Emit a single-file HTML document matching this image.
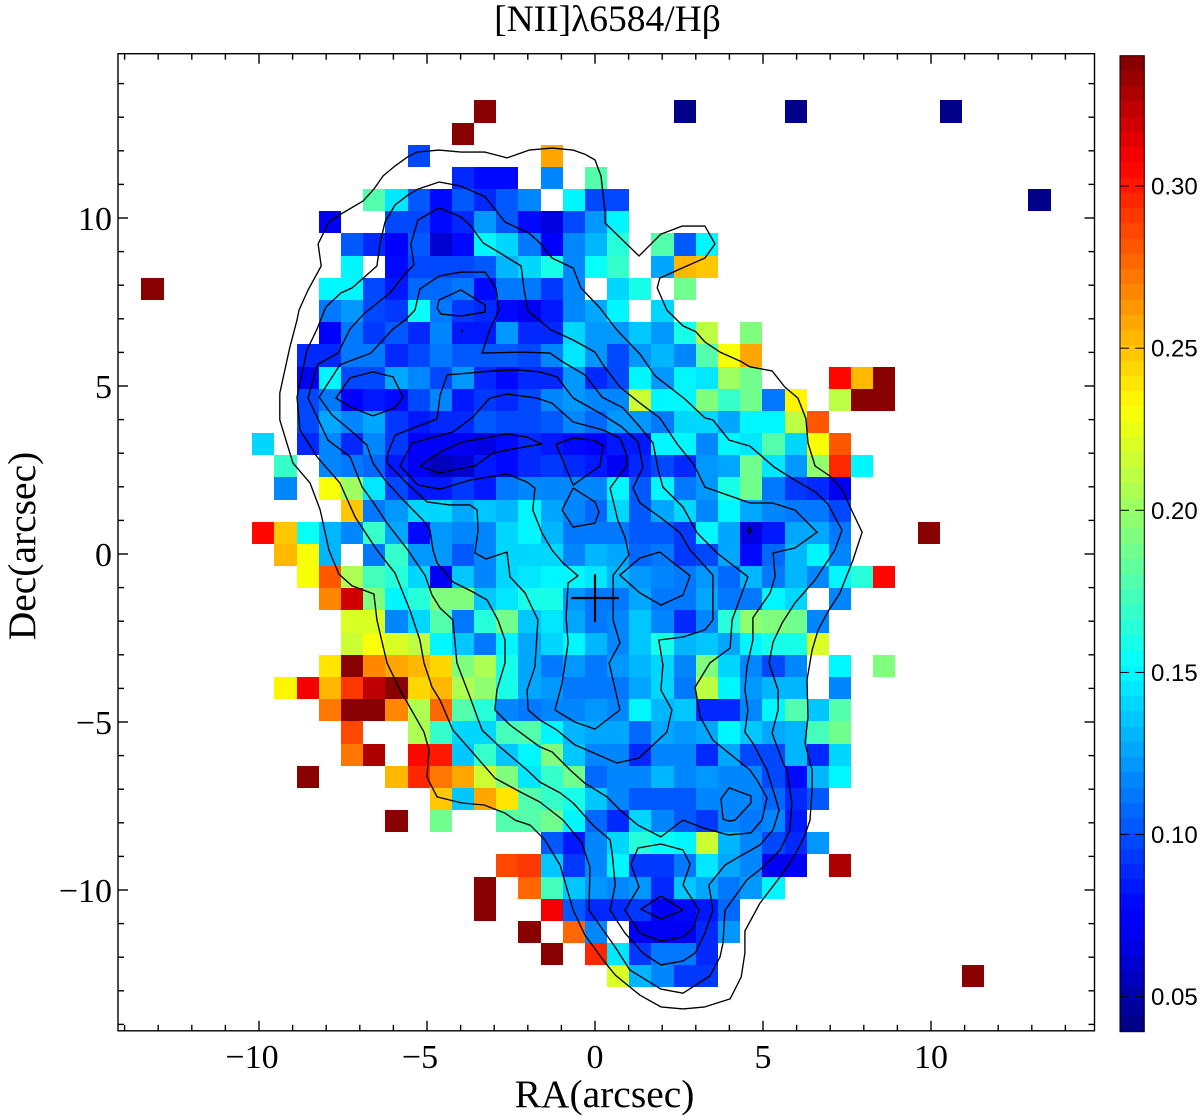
<!DOCTYPE html>
<html lang="en">
<head>
<meta charset="utf-8">
<title>[NII]λ6584/Hβ map</title>
<style>
html,body{margin:0;padding:0;background:#fff;width:1200px;height:1116px;overflow:hidden}
svg{display:block}
.serif{font-family:"Liberation Serif","DejaVu Serif",serif;fill:#000}
.sans{font-family:"Liberation Sans","DejaVu Sans",sans-serif;fill:#000}
</style>
</head>
<body>
<svg id="chart" xmlns="http://www.w3.org/2000/svg" width="1200" height="1116" viewBox="0 0 1200 1116">
  <g id="heat" shape-rendering="crispEdges"></g>
  <g id="contours" fill="none" stroke="#000" stroke-width="1.35" stroke-linejoin="round"></g>
  <g id="cross" stroke="#000" stroke-width="2.2"></g>
  <g id="axes" stroke="#000" stroke-width="1.4" fill="none"></g>
  <g id="axisLabels"></g>
  <g id="cbar" shape-rendering="crispEdges"></g>
  <g id="cbarTicks"></g>
  <text class="serif" x="607.5" y="31" font-size="37.5" text-anchor="middle">[NII]λ6584/Hβ</text>
  <text class="serif" x="604.5" y="1107" font-size="39.5" text-anchor="middle">RA(arcsec)</text>
  <text class="serif" transform="translate(35 546) rotate(-90)" font-size="39.5" text-anchor="middle">Dec(arcsec)</text>
</svg>
<script>
const _ = null;
/* grid */
const cellStep = 0.66;
const centerColumn = 20;
const centerRow = 20;
/* first occupied column of every map row */
const firstColumn = [15,14,12,14,10,8,9,9,0,8,8,7,7,7,7,5,6,6,9,5,6,7,8,9,9,8,6,8,9,9,7,13,11,18,16,15,15,17,18,21];
/* [NII]/Hbeta ratio per row, starting at firstColumn */
const ratioRows = [
[.34,_,_,_,_,_,_,_,_,.04,_,_,_,_,.04,_,_,_,_,_,_,.04],
[.34],
[.10,_,_,_,_,_,.26],
[.088,.08,.08,_,.118,_,.18],
[.18,.145,.105,.08,.105,.09,.105,.118,_,.15,.10,.10,_,_,_,_,_,_,_,_,_,_,_,_,_,_,_,_,_,_,.04],
[.07,_,_,.10,.10,.08,.088,.12,.105,.078,.066,.10,.12,.15],
[.105,.09,.075,.105,.06,.078,.148,.14,.113,.073,.115,.13,.165,_,.18,.105,.15],
[.15,_,.08,.098,.098,.098,.105,.13,.14,.157,.115,.155,.17,_,.125,.255,.25],
[.34,_,_,_,_,_,_,_,.15,.15,.098,.085,.108,.108,.113,.08,.11,.11,.092,.118,_,.14,.16,_,.185],
[.11,.12,.098,.095,.155,.113,.095,.09,.078,.07,.085,.115,.125,.15,_,.14],
[.075,.113,.092,.105,.09,.115,.085,.085,.12,.09,.09,.138,.12,.12,.135,.12,.158,.21,_,.19],
[.09,.088,.113,.11,.088,.098,.11,.105,.103,.103,.10,.115,.145,.12,.098,.12,.13,.115,.18,.23,.26],
[.068,.15,.10,.098,.125,.115,.098,.12,.088,.078,.09,.09,.12,.088,.098,.148,.12,.15,.145,.20,.185,_,_,_,.305,.255,.34],
[.098,.11,.075,.085,.078,.10,.118,.085,.095,.09,.10,.118,.12,.118,.118,.215,.148,.15,.19,.17,.185,.11,.235,_,.21,.34,.34],
[.098,.125,.118,.125,.095,.085,.09,.09,.105,.098,.098,.105,.118,.108,.123,.123,.113,.14,.14,.125,.15,.15,.21,.28],
[.14,_,.09,.118,.088,.118,.095,.075,.072,.07,.066,.078,.09,.085,.078,.075,.085,.085,.148,.15,.118,.148,.145,.18,.14,.23,.28],
[.17,_,.118,.11,.108,.085,.07,.055,.062,.082,.08,.09,.095,.09,.085,.072,.09,.098,.088,.12,.125,.185,.145,.123,.195,.295,.15],
[.115,_,.228,.20,.145,.10,.085,.085,.095,.085,.11,.118,.118,.118,.118,.15,.105,.148,.113,.123,.16,.185,.113,.095,.09,.072],
[.25,.113,.123,.138,.138,.125,.135,.13,.15,.126,.118,.108,.14,.105,.125,.138,.118,.15,.125,.118,.113,.113,.10],
[.305,.25,.155,.13,.115,.17,.128,.078,.12,.115,.118,.14,.15,.13,.11,.11,.113,.105,.103,.095,.15,.128,.065,.085,.125,.128,.113,_,_,_,.34],
[.255,.23,.13,_,.113,.17,.12,.12,.105,.115,.14,.14,.142,.118,.133,.125,.108,.113,.095,.10,.125,.078,.108,.13,.148,.115],
[.23,.28,.205,.175,.165,.14,.07,.135,.118,.14,.145,.15,.148,.145,.13,.123,.118,.113,.123,.108,.133,.11,.133,.118,.15,.165,.305],
[.265,.32,.19,.15,.165,.19,.19,.135,.145,.16,.158,.12,.113,.113,.128,.113,.11,.125,.113,.11,.148,.14,_,.118],
[.22,.22,.118,.14,.18,.11,.165,.185,.135,.145,.128,.11,.115,.135,.118,.09,.118,.165,.195,.19,.185,.118],
[.215,.23,.22,.21,.15,.135,.113,.15,.125,.142,.15,.133,.115,.135,.158,.13,.135,.128,.15,.158,.16,.218],
[.24,.34,.265,.26,.255,.245,.19,.205,.16,.128,.113,.122,.11,.12,.13,.138,.118,.19,.14,.118,.098,.118,_,.15,_,.19],
[.235,.31,.255,.29,.325,.34,.245,.255,.205,.195,.16,.128,.123,.11,.11,.113,.125,.14,.113,.21,.15,.123,.13,.13,_,.118],
[.27,.34,.34,.265,.205,.275,.178,.165,.118,.11,.118,.118,.122,.118,.15,.13,.135,.09,.09,.115,.148,.178,.135,.18],
[.285,_,_,.205,.17,.14,.14,.175,.18,.15,.13,.125,.125,.108,.128,.12,.125,.15,.135,.125,.133,.175,.185],
[.27,.33,_,.305,.30,.135,.17,.135,.15,.19,.135,.118,.118,.09,.115,.115,.09,.125,.098,.098,.13,.09,.14],
[.34,_,_,_,.255,.295,.27,.26,.215,.19,.145,.17,.185,.108,.118,.118,.13,.118,.122,.118,.115,.098,.08,.13,.15],
[.25,.135,.258,.24,.18,.17,.16,.135,.115,.103,.103,.103,.115,.115,.115,.108,.09,.103],
[.34,_,.185,_,_,.178,.178,.185,.148,.108,.088,.14,.115,.105,.095,.118,.11,.118,.085],
[.105,.082,.118,.14,.165,.155,.148,.215,.133,.115,.098,.09,.12],
[.285,.29,.135,.095,.118,.148,.095,.095,.11,.143,.125,.115,.07,.07,_,.33],
[.34,_,.275,.175,.135,.123,.115,.12,.09,.135,.128,.113,.123,.15],
[.34,_,_,.31,.105,.09,.09,.095,.07,.08,.085,.108],
[.34,_,.275,.118,_,.068,.068,.068,.09,.123],
[.34,_,.295,.145,.095,.11,.11,.09],
[.218,.13,.118,.092,.092,_,_,_,_,_,_,_,_,_,_,_,.34]
];
/* contour levels: flat RA,Dec arcsec sequences */
const contourOuter = [-5.30,11.96,-4.64,12.02,-3.99,11.96,-3.27,11.96,-2.62,11.79,-1.96,12.02,-1.28,12.08,-.65,12.02,-.30,11.90,0,11.73,.18,11.25,.30,10.18,.30,9.85,1.31,8.87,1.96,9.52,2.59,9.76,3.27,9.76,3.57,9.23,3.27,8.81,2.59,8.51,1.93,8.21,1.85,7.92,2.14,7.26,2.62,6.79,3.01,6.61,3.27,6.31,3.72,6.01,4.32,5.74,4.61,5.57,5.27,5.45,5.65,4.97,6.04,4.64,6.28,4.02,6.34,3.30,6.55,2.62,6.99,2.32,7.35,1.93,7.65,1.28,7.95,.65,7.68,-.18,7.29,-1.16,6.96,-1.67,6.64,-2.26,6.46,-2.86,6.31,-3.75,6.34,-4.85,6.25,-5.63,6.46,-6.43,6.46,-7.02,6.40,-7.92,6.25,-8.36,5.95,-8.96,5.51,-9.61,4.91,-10.39,4.46,-11.22,4.46,-11.88,4.35,-12.59,4.02,-13.24,3.27,-13.48,2.62,-13.54,1.96,-13.48,1.34,-13.13,.60,-12.53,.24,-12.08,-.30,-11.34,-.65,-10.60,-1.04,-9.26,-1.49,-8.51,-1.93,-8.07,-2.38,-7.92,-2.68,-7.71,-3.30,-7.47,-3.96,-7.41,-4.70,-7.23,-4.91,-6.82,-5.00,-6.64,-4.94,-5.83,-5.09,-5.30,-5.80,-4.05,-6.19,-3.24,-6.49,-1.96,-6.58,-1.19,-7.23,-.95,-7.62,-.60,-7.92,.12,-8.18,1.31,-8.48,2.11,-8.99,2.71,-9.38,3.99,-9.38,4.79,-9.08,6.16,-8.87,6.96,-8.81,7.26,-8.54,7.86,-8.15,8.57,-8.24,9.23,-7.92,9.88,-7.56,10.12,-6.90,10.51,-6.58,10.86,-6.31,11.25,-5.95,11.55,-5.57,11.82];
const contourSecond = [-8.27,6.70,-8.01,7.35,-7.56,7.77,-7.23,7.92,-6.90,8.21,-6.49,8.57,-6.40,9.23,-6.25,9.88,-5.95,10.39,-5.57,10.68,-5.27,10.86,-4.64,11.07,-3.99,10.95,-3.27,10.63,-2.68,9.88,-1.96,9.55,-1.64,9.26,-1.28,8.81,-.65,8.51,-.42,7.92,.15,7.32,.65,6.67,1.34,5.95,1.79,5.30,2.68,4.61,3.27,4.05,3.51,3.99,3.99,3.39,4.61,3.21,5.33,2.59,5.95,2.20,6.55,1.85,6.93,1.49,7.35,.71,7.14,.12,6.55,-.77,5.95,-1.46,5.57,-2.05,5.30,-2.62,5.18,-3.24,5.45,-4.05,5.45,-4.64,5.27,-5.33,5.60,-6.22,5.71,-6.43,5.86,-7.41,5.80,-8.21,5.51,-8.81,5.00,-9.32,4.52,-9.70,3.87,-10.60,3.81,-11.58,3.72,-11.99,3.42,-12.56,2.62,-13.07,1.96,-12.95,1.04,-12.38,.60,-11.70,.24,-11.19,-.18,-10.60,-.15,-9.32,-.39,-8.60,-.95,-7.92,-1.64,-7.38,-2.23,-7.08,-2.98,-6.67,-3.63,-5.92,-4.23,-5.24,-4.61,-4.35,-4.85,-3.96,-5.09,-3.24,-5.21,-2.56,-5.51,-1.67,-5.95,-.57,-6.49,.12,-7.14,1.10,-7.59,2.11,-8.27,2.89,-8.78,3.69,-8.87,4.67,-8.57,6.07];
const contourThird = [-7.29,6.70,-6.85,7.17,-6.10,7.77,-5.63,8.36,-5.39,8.60,-5.48,9.23,-5.27,9.94,-4.64,10.30,-3.99,10.03,-3.72,9.79,-3.33,9.26,-2.83,8.96,-2.20,8.57,-2.11,7.86,-1.99,7.23,-1.31,6.67,-.65,6.37,0,6.01,.24,5.63,.74,4.97,1.34,4.49,1.93,4.05,2.47,3.24,2.95,2.65,3.27,1.99,4.61,1.52,5.27,1.52,5.95,1.31,6.61,.65,5.95,.18,5.30,.03,5.36,-.68,5.21,-1.16,4.70,-1.90,4.70,-2.56,4.52,-3.36,4.46,-4.05,4.55,-4.64,4.46,-5.30,4.70,-5.63,5.12,-6.43,5.48,-7.62,5.30,-8.21,4.91,-8.66,4.32,-8.99,3.87,-9.26,3.39,-9.85,3.51,-10.60,3.27,-11.28,2.98,-11.88,2.62,-12.11,1.96,-12.23,1.43,-11.88,.89,-11.28,.45,-10.60,.60,-9.85,.51,-8.90,.45,-8.51,-.06,-8.07,-.65,-7.41,-1.04,-7.11,-1.64,-6.79,-2.02,-6.43,-2.83,-5.74,-3.36,-5.24,-3.72,-4.26,-4.11,-3.24,-4.23,-1.96,-4.61,-1.61,-4.85,-1.22,-5.06,-.63,-5.57,.12,-6.19,.92,-6.61,1.55,-6.93,1.99,-7.29,2.89,-7.95,3.39,-8.54,4.64,-8.27,5.63,-7.65,5.98];
const contourFourth = [-5.65,6.96,-5.36,7.26,-5.21,7.89,-4.64,8.27,-3.99,8.39,-3.27,8.39,-2.95,7.92,-2.86,7.26,-3.13,6.67,-3.36,5.98,-2.23,6.01,-1.34,5.98,-.95,5.71,-.30,5.33,.21,4.67,.83,4.35,1.34,3.78,1.73,3.30,1.88,2.50,2.02,1.99,2.62,1.40,3.04,.63,3.63,.03,4.55,-.68,4.08,-1.96,4.02,-2.80,3.42,-3.24,2.98,-3.96,3.13,-4.85,3.51,-5.54,4.61,-6.43,4.82,-6.73,5.12,-7.26,4.97,-7.92,4.64,-8.30,3.96,-8.36,3.21,-8.15,2.62,-7.92,1.96,-8.42,1.28,-8.07,.74,-7.62,.36,-7.23,-.30,-6.82,-.74,-6.43,-1.28,-5.89,-1.64,-5.74,-2.53,-5.09,-2.98,-4.64,-2.92,-4.05,-2.68,-3.24,-2.68,-2.56,-2.89,-1.96,-3.21,-1.37,-3.63,-1.13,-4.23,-.83,-4.70,-.27,-4.82,.12,-4.91,.71,-5.12,1.01,-5.71,1.61,-6.25,2.20,-6.61,2.71,-6.79,3.24,-7.29,3.69,-7.83,4.14,-8.21,4.67,-7.59,5.63,-6.67,5.98,-6.01,6.70];
const contourFifth = [-6.19,2.71,-6.16,3.01,-5.95,3.54,-4.70,4.02,-4.61,4.73,-4.40,5.33,-3.04,5.45,-2.29,5.48,-1.64,5.42,-1.13,5.27,-.65,4.64,.24,4.14,.80,3.78,1.28,3.33,1.43,2.59,1.13,1.96,1.34,1.52,1.93,1.10,2.53,.63,2.83,.12,3.51,-.63,3.51,-1.96,3.27,-2.26,2.62,-2.47,1.90,-2.56,2.02,-3.30,1.96,-4.05,2.29,-4.64,2.14,-5.30,1.31,-6.07,.65,-6.22,-.60,-5.68,-1.13,-5.24,-1.64,-4.94,-1.99,-4.64,-2.02,-4.05,-1.79,-3.36,-1.70,-1.96,-2.08,-1.16,-2.53,-.68,-2.62,.06,-3.24,-.15,-3.57,.03,-3.48,.71,-3.51,1.31,-3.72,1.46,-4.32,1.46,-5.00,1.55,-5.60,2.11];
const contourSixth = [-5.80,2.62,-5.45,3.30,-4.23,3.63,-3.63,4.08,-3.13,4.64,-2.62,4.76,-1.73,4.64,-1.28,4.49,-.65,3.93,.24,3.69,.74,3.45,.92,3.01,.95,2.65,.45,1.96,.68,1.01,.89,.51,1.01,-.03,.54,-.63,.54,-1.96,.74,-2.65,.42,-3.24,.74,-4.64,0,-5.21,-.60,-5.00,-1.19,-4.64,-.98,-3.84,-.80,-2.65,-.86,-1.88,-.80,-.86,-.51,-.65,-.95,-.27,-1.28,.12,-1.58,.63,-1.85,1.31,-1.79,1.96,-2.02,2.14,-2.62,2.38,-3.72,2.20,-4.61,1.93,-5.27,2.05];
const contourCoreUpper = [-1.16,3.27,-.65,3.45,-.06,3.39,.24,3.24,.15,2.62,-.65,2.05];
const contourCoreLower = [-.65,1.96,0,1.55,.12,1.25,0,.92,-.65,.80,-.98,1.31];
const contourPeakMain = [-5.21,2.62,-4.61,3.04,-3.96,3.33,-2.62,3.57,-2.02,3.48,-1.58,3.27,-2.32,3.15,-3.04,3.01,-3.57,2.62,-4.23,2.50,-4.61,2.41];
const contourPeakWest = [-7.71,4.64,-7.29,5.24,-6.61,5.42,-6.01,5.27,-5.71,4.67,-5.95,4.35,-6.61,4.11,-7.23,4.35];
const contourPeakNorth = [-4.64,7.56,-3.99,7.86,-3.27,7.41,-3.27,7.20,-3.99,7.08,-4.58,7.14,-4.70,7.32];
const contourPeakCentral = [.74,-.63,1.34,-.12,1.93,.06,2.83,-.65,2.62,-1.22,1.96,-1.52,1.34,-1.16];
const contourSouthOuter = [1.28,-8.75,1.96,-8.63,2.62,-8.81,2.83,-9.23,2.62,-9.85,3.10,-10.60,2.92,-11.13,2.62,-11.40,1.96,-11.52,1.34,-11.28,.89,-10.60,1.31,-9.91,1.07,-9.23];
const contourSouthInner = [1.96,-10.18,2.62,-10.60,1.96,-10.86,1.37,-10.57];
const contourSouthEast = [3.99,-6.96,4.64,-7.20,4.64,-7.41,4.17,-7.92,3.99,-7.95,3.81,-7.89,3.75,-7.29];
const contourSpeckEast = [4.58,.80,4.65,.71,4.60,.60,4.54,.71];
const contourSpeckNorth = [-3.98,6.65,-3.94,6.65,-3.96,6.62];
const contourSets = [contourOuter,contourSecond,contourThird,contourFourth,contourFifth,contourSixth,contourCoreUpper,contourCoreLower,contourPeakMain,contourPeakWest,contourPeakNorth,contourPeakCentral,contourSouthOuter,contourSouthInner,contourSouthEast,contourSpeckEast,contourSpeckNorth];
/* ticks */
const xMajorTicks = [-10,-5,0,5,10];
const yMajorTicks = [-10,-5,0,5,10];
const minorTicks = [-14,-13,-12,-11,-9,-8,-7,-6,-4,-3,-2,-1,1,2,3,4,6,7,8,9,11,12,13,14];
const colorbarTicks = [0.05,0.10,0.15,0.20,0.25,0.30];
const colorbarLabels = ["0.05","0.10","0.15","0.20","0.25","0.30"];
/* marker position, arcsec */
const crossCenter = [0,-1.31];
const crossHalfSize = [0.71,0.71];
/* colour scale */
const valueMin = 0.0392;
const valueMax = 0.3402;
const levelCount = 64;

/* axes */
const pxPerArcsec = 33.6;
const plot = {left:118,right:1094.5,top:53.7,bottom:1030.8};
const bar = {left:1120,right:1144.3,top:55.7,bottom:1031.7};
function xScale(ra){return 595 + ra*pxPerArcsec;}
function yScale(dec){return 554 - dec*pxPerArcsec;}
function barScale(v){return bar.bottom - (v-valueMin)/(valueMax-valueMin)*(bar.bottom-bar.top);}
function ramp(t,stops){
  for(let i=1;i<stops.length;i++){
    if(t<=stops[i][0]){
      const a=stops[i-1],b=stops[i];
      return a[1]+(b[1]-a[1])*(t-a[0])/(b[0]-a[0]);
    }
  }
  return stops[stops.length-1][1];
}
const redStops=[[0,0],[.375,0],[.64,1],[.89,1],[1,.5]];
const greenStops=[[0,0],[.125,0],[.375,1],[.64,1],[.89,0],[1,0]];
const blueStops=[[0,.5],[.11,1],[.375,1],[.64,0],[1,0]];
function jet(t){
  const c=s=>Math.round(255*ramp(t,s));
  return 'rgb('+c(redStops)+','+c(greenStops)+','+c(blueStops)+')';
}
function colorFor(v){
  let idx=Math.floor((v-valueMin)/(valueMax-valueMin)*levelCount);
  idx=Math.max(0,Math.min(levelCount-1,idx));
  return jet((idx+.5)/levelCount);
}
const NS='http://www.w3.org/2000/svg';
function mk(tag,parent,attrs){
  const el=document.createElementNS(NS,tag);
  for(const k in attrs) el.setAttribute(k,attrs[k]);
  parent.appendChild(el);
  return el;
}
/* heatmap */
const heat=document.getElementById('heat');
ratioRows.forEach(function(row,r){
  row.forEach(function(v,i){
    if(v===null) return;
    const c=firstColumn[r]+i;
    const ra=(c-centerColumn)*cellStep+0.03;
    const dec=(centerRow-r)*cellStep-0.03;
    const half=cellStep/2;
    const x0=Math.round(xScale(ra-half)),x1=Math.round(xScale(ra+half));
    const y0=Math.round(yScale(dec+half)),y1=Math.round(yScale(dec-half));
    const cell=mk('rect',heat,{x:x0,y:y0,width:x1-x0,height:y1-y0,fill:colorFor(v)});
    
    
  });
});
/* contours */
const contourGroup=document.getElementById('contours');
contourSets.forEach(function(set){
  const pts=[];
  for(let i=0;i<set.length;i+=2){
    pts.push(xScale(set[i]).toFixed(1)+','+yScale(set[i+1]).toFixed(1));
  }
  const line=mk('polygon',contourGroup,{points:pts.join(' ')});
  
  
});
/* cross */
const crossGroup=document.getElementById('cross');
const crossH=mk('line',crossGroup,{x1:xScale(crossCenter[0]-crossHalfSize[0]),x2:xScale(crossCenter[0]+crossHalfSize[0]),y1:yScale(crossCenter[1]),y2:yScale(crossCenter[1])});


const crossV=mk('line',crossGroup,{x1:xScale(crossCenter[0]),x2:xScale(crossCenter[0]),y1:yScale(crossCenter[1]+crossHalfSize[1]),y2:yScale(crossCenter[1]-crossHalfSize[1])});


/* frame and ticks */
const axes=document.getElementById('axes');
const frame=mk('rect',axes,{x:plot.left,y:plot.top,width:plot.right-plot.left,height:plot.bottom-plot.top});


function xTick(ra,len){
  const x=xScale(ra);
  const a=mk('line',axes,{x1:x,x2:x,y1:plot.bottom,y2:plot.bottom-len});
  
  
  const b=mk('line',axes,{x1:x,x2:x,y1:plot.top,y2:plot.top+len});
  
  
}
function yTick(dec,len){
  const y=yScale(dec);
  const a=mk('line',axes,{x1:plot.left,x2:plot.left+len,y1:y,y2:y});
  
  
  const b=mk('line',axes,{x1:plot.right,x2:plot.right-len,y1:y,y2:y});
  
  
}
minorTicks.forEach(function(t){xTick(t,6);yTick(t,6);});
xMajorTicks.forEach(function(t){xTick(t,10);});
yMajorTicks.forEach(function(t){yTick(t,10);});
/* tick labels */
const labels=document.getElementById('axisLabels');
function fmt(t){return (t<0?'\u2212':'')+Math.abs(t);}
xMajorTicks.forEach(function(t){
  const lab=mk('text',labels,{x:xScale(t)+(t<0?-7:0),y:1068,'font-size':34,'text-anchor':'middle',class:'serif'});
  lab.textContent=fmt(t);
  
  
});
yMajorTicks.forEach(function(t){
  const lab=mk('text',labels,{x:112,y:yScale(t)+12,'font-size':34,'text-anchor':'end',class:'serif'});
  lab.textContent=fmt(t);
  
  
});
/* colorbar */
const cbar=document.getElementById('cbar');
for(let i=0;i<levelCount;i++){
  const v0=valueMin+(valueMax-valueMin)*i/levelCount;
  const v1=valueMin+(valueMax-valueMin)*(i+1)/levelCount;
  const y1=Math.round(barScale(v0)),y0=Math.round(barScale(v1));
  const seg=mk('rect',cbar,{x:bar.left,y:y0,width:bar.right-bar.left,height:y1-y0,fill:jet((i+.5)/levelCount)});
  
  
}
const barFrame=mk('rect',document.getElementById('cbarTicks'),{x:bar.left,y:bar.top,width:bar.right-bar.left,height:bar.bottom-bar.top,fill:'none',stroke:'#000','stroke-width':1});


const cbarTicksGroup=document.getElementById('cbarTicks');
colorbarTicks.forEach(function(v,i){
  const y=barScale(v);
  const l=mk('line',cbarTicksGroup,{x1:bar.left,x2:bar.left+9,y1:y,y2:y,stroke:'#000','stroke-width':1});
  
  
  const r=mk('line',cbarTicksGroup,{x1:bar.right-9,x2:bar.right,y1:y,y2:y,stroke:'#000','stroke-width':1});
  
  
  const lab=mk('text',cbarTicksGroup,{x:1151,y:y+8.5,'font-size':24,class:'sans'});
  lab.textContent=colorbarLabels[i];
  
  
});
</script>
</body>
</html>
